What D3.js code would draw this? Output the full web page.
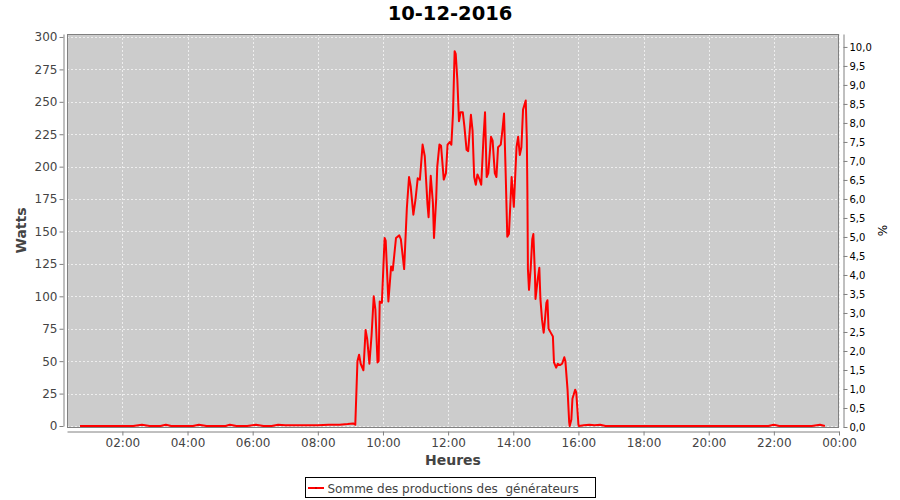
<!DOCTYPE html>
<html>
<head>
<meta charset="utf-8">
<script src="https://cdn.jsdelivr.net/npm/d3@7/dist/d3.min.js"></script>
<style>
  html, body { margin: 0; padding: 0; background: #ffffff; }
  svg { display: block; font-family: "DejaVu Sans", sans-serif; }
</style>
</head>
<body>
<svg id="chart" width="900" height="500"></svg>
<script>
// ---- Data ----
const chartTitle = "10-12-2016";
const seriesName = "Somme des productions des  générateurs";
const times = [
  "00:42","01:00","01:20","01:40","02:00","02:20","02:36","02:50","03:10","03:20",
  "03:30","03:50","04:10","04:21","04:35","04:55","05:10","05:18","05:30","05:50",
  "06:06","06:20","06:35","06:47","07:00","07:20","07:40","08:00","08:20","08:40",
  "08:55","09:05","09:09",
  "09:13","09:16","09:19","09:24","09:28","09:31","09:35","09:39","09:43","09:46",
  "09:50","09:52","09:54","09:58","10:03","10:05","10:10","10:15","10:18","10:24",
  "10:30","10:33","10:39","10:44","10:48","10:51","10:56","11:00","11:04","11:08",
  "11:13","11:17","11:22","11:24","11:28","11:32","11:34","11:38","11:40","11:44",
  "11:47","11:52","11:56","11:59","12:03","12:06","12:09","12:12","12:14","12:17",
  "12:20","12:23","12:27","12:30","12:34","12:37","12:42","12:45","12:48","12:51",
  "12:54","12:58","13:01","13:05","13:08","13:11","13:14","13:19","13:22","13:26",
  "13:29","13:32","13:37","13:40","13:43","13:46","13:49","13:52","13:57","14:01",
  "14:06","14:09","14:12","14:15","14:18","14:23","14:25","14:26","14:27","14:29",
  "14:32","14:35","14:37","14:40","14:41","14:45","14:48","14:50","14:53","14:56",
  "14:58","15:01","15:03","15:05","15:09","15:13","15:15","15:19","15:22","15:26",
  "15:30","15:34","15:36","15:40","15:43","15:44","15:47","15:49","15:54","15:56",
  "16:00","16:01",
  "16:10","16:20","16:30","16:40","16:50","17:10","17:30","17:50","18:10","18:30",
  "18:50","19:10","19:30","19:50","20:10","20:30","20:50","21:10","21:30","21:50",
  "22:00","22:10","22:30","22:50","23:10","23:25","23:34"
];
const watts = [
  0,0,0,0,0,0,1,0,0,1,
  0,0,0,1,0,0,0,1,0,0,
  1,0,0,1,0.5,0.5,0.5,0.5,1,1,
  1.5,2,1,
  50,55,48,43,74,67,48,70,100,90,
  49,50,96,95,145,143,96,123,120,145,
  147,144,121,168,192,185,163,175,191,190,
  217,208,171,161,193,172,145,175,200,217,
  216,190,195,217,219,217,241,289,287,267,
  235,242,242,231,213,212,240,228,192,186,
  194,190,186,221,242,192,195,223,220,195,
  192,215,217,228,241,195,146,148,192,169,
  215,223,209,215,244,251,221,182,121,105,
  121,144,148,116,98,113,122,98,82,72,
  80,95,97,75,72,69,49,45,48,47,
  48,53,50,28,3,0,5,21,28,26,
  1,0,
  0.5,1,0.5,1,0,0,0,0,0,0,
  0,0,0,0,0,0,0,0,0,0,
  1,0,0,0,0,1,0
];
const leftTicks = [0,25,50,75,100,125,150,175,200,225,250,275,300];
const rightTicks = [0,0.5,1,1.5,2,2.5,3,3.5,4,4.5,5,5.5,6,6.5,7,7.5,8,8.5,9,9.5,10];
const xTickLabels = ["02:00","04:00","06:00","08:00","10:00","12:00","14:00","16:00","18:00","20:00","22:00","00:00"];

// ---- Layout ----
const svg = d3.select("#chart");
const plot = { left: 67, right: 839, top: 34, bottom: 427 };
const parseT = d3.timeParse("%H:%M");
const dayEnd = new Date(1900, 0, 2, 0, 0);

const x = d3.scaleTime()
  .domain([new Date(1900, 0, 1, 0, 18), dayEnd])
  .range([plot.left, plot.right]);
const y = d3.scaleLinear().domain([0, 302.3]).range([plot.bottom - 1, plot.top]);
const yR = d3.scaleLinear().domain([0, 10.34]).range([plot.bottom, plot.top]);

const xTickDates = xTickLabels.map(s => s === "00:00" ? dayEnd : parseT(s));
const data = times.map((t, i) => ({ t: parseT(t), v: watts[i] }));

// Title
svg.append("text")
  .attr("x", 450).attr("y", 20)
  .attr("text-anchor", "middle")
  .style("font-size", "19.5px").style("font-weight", "bold").attr("fill", "#000")
  .text(chartTitle);

// Plot background
svg.append("rect")
  .attr("x", plot.left).attr("y", plot.top)
  .attr("width", plot.right - plot.left).attr("height", plot.bottom - plot.top)
  .attr("fill", "#cccccc");

// Grid lines
const grid = svg.append("g").attr("stroke", "#eeeeee").attr("stroke-width", 1).attr("stroke-dasharray", "2,2");
leftTicks.forEach(v => {
  grid.append("line")
    .attr("x1", plot.left).attr("x2", plot.right)
    .attr("y1", Math.round(y(v)) + 0.5).attr("y2", Math.round(y(v)) + 0.5);
});
xTickDates.forEach(d => {
  grid.append("line")
    .attr("x1", Math.round(x(d)) + 0.5).attr("x2", Math.round(x(d)) + 0.5)
    .attr("y1", plot.top).attr("y2", plot.bottom);
});

// Plot outline
svg.append("rect")
  .attr("x", plot.left + 0.5).attr("y", plot.top + 0.5)
  .attr("width", plot.right - plot.left - 1).attr("height", plot.bottom - plot.top)
  .attr("fill", "none").attr("stroke", "#808080").attr("stroke-width", 1);

// Series line (drawn above the outline so the zero baseline stays visible)
const line = d3.line().x(d => x(d.t)).y(d => y(d.v));
svg.append("path")
  .datum(data)
  .attr("fill", "none")
  .attr("stroke", "#ff0000")
  .attr("stroke-width", 2)
  .attr("stroke-linejoin", "round")
  .attr("d", line);

// Axes
function styleAxis(g, color, size) {
  g.select(".domain").attr("stroke", "#808080");
  g.selectAll(".tick line").attr("stroke", "#808080");
  g.selectAll(".tick text").attr("fill", color).style("font-size", size)
    .style("font-family", "DejaVu Sans, sans-serif");
}

const yAxisL = d3.axisLeft(y).tickValues(leftTicks).tickSize(4).tickSizeOuter(0).tickPadding(2)
  .tickFormat(d3.format("d"));
svg.append("g").attr("transform", "translate(63.5,0)").call(yAxisL)
  .call(g => styleAxis(g, "#444444", "12px"));

const yAxisR = d3.axisRight(yR).tickValues(rightTicks).tickSize(4).tickSizeOuter(0).tickPadding(2)
  .tickFormat(d => d3.format(".1f")(d).replace(".", ","));
svg.append("g").attr("transform", "translate(843.5,0)").call(yAxisR)
  .call(g => styleAxis(g, "#000000", "10px"));

const xAxis = d3.axisBottom(x).tickValues(xTickDates).tickSize(4).tickSizeOuter(0).tickPadding(2.5)
  .tickFormat(d => xTickLabels[xTickDates.indexOf(d)]);
svg.append("g").attr("transform", "translate(0,431.5)").call(xAxis)
  .call(g => styleAxis(g, "#444444", "12px"));

// Axis titles
svg.append("text")
  .attr("x", (plot.left + plot.right) / 2).attr("y", 465)
  .attr("text-anchor", "middle")
  .style("font-size", "14px").style("font-weight", "bold").attr("fill", "#444444")
  .text("Heures");
svg.append("text")
  .attr("transform", `translate(26,${(plot.top + plot.bottom) / 2}) rotate(-90)`)
  .attr("text-anchor", "middle")
  .style("font-size", "14px").style("font-weight", "bold").attr("fill", "#444444")
  .text("Watts");
svg.append("text")
  .attr("transform", `translate(887,${(plot.top + plot.bottom) / 2}) rotate(-90)`)
  .attr("text-anchor", "middle")
  .style("font-size", "12px").attr("fill", "#000000")
  .text("%");

// Legend
const lg = svg.append("g");
lg.append("rect").attr("x", 305.5).attr("y", 477.5).attr("width", 290).attr("height", 20)
  .attr("fill", "#ffffff").attr("stroke", "#000000").attr("stroke-width", 1);
lg.append("line").attr("x1", 308).attr("x2", 324).attr("y1", 488).attr("y2", 488)
  .attr("stroke", "#ff0000").attr("stroke-width", 2);
lg.append("rect").attr("x", 315).attr("y", 487).attr("width", 2).attr("height", 2).attr("fill", "#cc0000");
lg.append("text").attr("x", 327.5).attr("y", 492.5)
  .style("font-size", "12px").attr("fill", "#444444")
  .attr("xml:space", "preserve").style("white-space", "pre")
  .text(seriesName);
</script>
</body>
</html>
